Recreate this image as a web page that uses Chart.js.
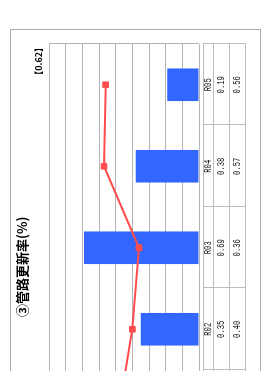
<!DOCTYPE html>
<html lang="ja">
<head>
    <meta charset="UTF-8">
    <title>管路更新率</title>
    <script src="https://cdn.jsdelivr.net/npm/chart.js"></script>
    <style>
        html, body {
            margin: 0;
            padding: 0;
            width: 271px;
            height: 371px;
            overflow: hidden;
            background: #fff;
        }
        /* whole chart is drawn upright, then turned a quarter left */
        #panel {
            position: absolute;
            left: 0;
            top: 0;
            width: 480px;
            height: 251px;
            transform-origin: 0 0;
            transform: translate(10px, 509px) rotate(-90deg);
        }
        #frame {
            position: absolute;
            left: 0;
            top: 0;
            width: 480px;
            height: 251px;
            box-sizing: border-box;
            border: 1px solid #aaa;
        }
        #chartBox {
            position: absolute;
            left: 0;
            top: 0;
            width: 480px;
            height: 251px;
        }
        #title {
            position: absolute;
            left: 192px;
            top: 4px;
            font-family: 'Noto Sans CJK JP', sans-serif;
            font-weight: bold;
            font-size: 13px;
            line-height: 15px;
            color: #000;
            white-space: nowrap;
        }
        #note {
            position: absolute;
            right: 14px;
            top: 23px;
            font-family: 'Noto Sans CJK JP', sans-serif;
            font-weight: bold;
            font-size: 9px;
            line-height: 11px;
            color: #000;
            white-space: nowrap;
        }
    </style>
</head>
<body>

<div id="panel">
    <div id="frame"></div>
    <div id="chartBox"><canvas id="rateChart"></canvas></div>
    <div id="title">③管路更新率(%)</div>
    <div id="note">【0.62】</div>
</div>

<script>
    // data (R01 only shows as the line leaving the bottom edge)
    const years = ['R01', 'R02', 'R03', 'R04', 'R05'];
    const barValues = [null, 0.35, 0.69, 0.38, 0.19];
    const lineValues = [0.48, 0.40, 0.36, 0.57, 0.56];
    const valueTicks = [0, 0.1, 0.2, 0.3, 0.4, 0.5, 0.6, 0.7, 0.8, 0.9];

    function fmt(v) {
        return v === null ? '' : v.toFixed(2);
    }

    // right edge of the plot + the little data table under it
    const tablePlugin = {
        id: 'tablePlugin',
        afterDraw(chart) {
            const ctx = chart.ctx;
            const area = chart.chartArea;
            const xs = chart.scales.x;
            const band = (area.right - area.left) / years.length;
            const rows = [193, 203.3, 219, 235];

            ctx.save();
            ctx.lineWidth = 1;
            ctx.strokeStyle = '#b4b4b4';
            ctx.beginPath();
            ctx.moveTo(Math.round(area.right) + 0.5, area.top);
            ctx.lineTo(Math.round(area.right) + 0.5, area.bottom);
            ctx.stroke();

            ctx.strokeStyle = '#bdbdbd';
            ctx.beginPath();
            rows.forEach(r => {
                ctx.moveTo(area.left, Math.round(r) + 0.5);
                ctx.lineTo(area.right + 1, Math.round(r) + 0.5);
            });
            for (let i = 0; i <= years.length; i++) {
                const u = Math.round(area.right - i * band) + 0.5;
                ctx.moveTo(u, rows[0]);
                ctx.lineTo(u, rows[3]);
            }
            ctx.stroke();

            ctx.fillStyle = '#222';
            ctx.font = '10px "Liberation Mono", monospace';
            ctx.textAlign = 'center';
            ctx.textBaseline = 'middle';
            const cells = [years, barValues.map(fmt), lineValues.map(fmt)];
            const centers = [198.5, 211.5, 227];
            years.forEach((y, i) => {
                const cx = xs.getPixelForValue(i);
                cells.forEach((row, k) => {
                    ctx.save();
                    ctx.translate(cx, centers[k]);
                    ctx.scale(0.72, 1);
                    ctx.fillText(row[i], 0, 0);
                    ctx.restore();
                });
            });
            ctx.restore();
        }
    };

    const ctx = document.getElementById('rateChart').getContext('2d');
    new Chart(ctx, {
        data: {
            labels: years,
            datasets: [{
                type: 'line',
                label: '全国平均',
                data: lineValues,
                borderColor: '#ff4d4d',
                backgroundColor: '#ff4d4d',
                borderWidth: 2,
                pointStyle: 'rect',
                pointRadius: 4,
                pointBorderWidth: 1,
                order: 0
            }, {
                type: 'bar',
                label: '更新率',
                data: barValues,
                backgroundColor: '#3366ff',
                borderWidth: 0,
                categoryPercentage: 1,
                barPercentage: 0.4,
                order: 1
            }]
        },
        options: {
            responsive: true,
            maintainAspectRatio: false,
            animation: false,
            layout: {
                padding: { left: 57.5, right: 15, top: 39, bottom: 62 }
            },
            plugins: {
                legend: { display: false },
                tooltip: { enabled: false }
            },
            scales: {
                x: {
                    display: false,
                    offset: true
                },
                y: {
                    min: 0,
                    max: valueTicks[valueTicks.length - 1],
                    afterBuildTicks: axis => {
                        axis.ticks = valueTicks.map(v => ({ value: v }));
                    },
                    ticks: { display: false },
                    grid: {
                        color: '#b4b4b4',
                        lineWidth: 1,
                        drawTicks: false
                    },
                    border: { display: false }
                }
            }
        },
        plugins: [tablePlugin]
    });
</script>

</body>
</html>
